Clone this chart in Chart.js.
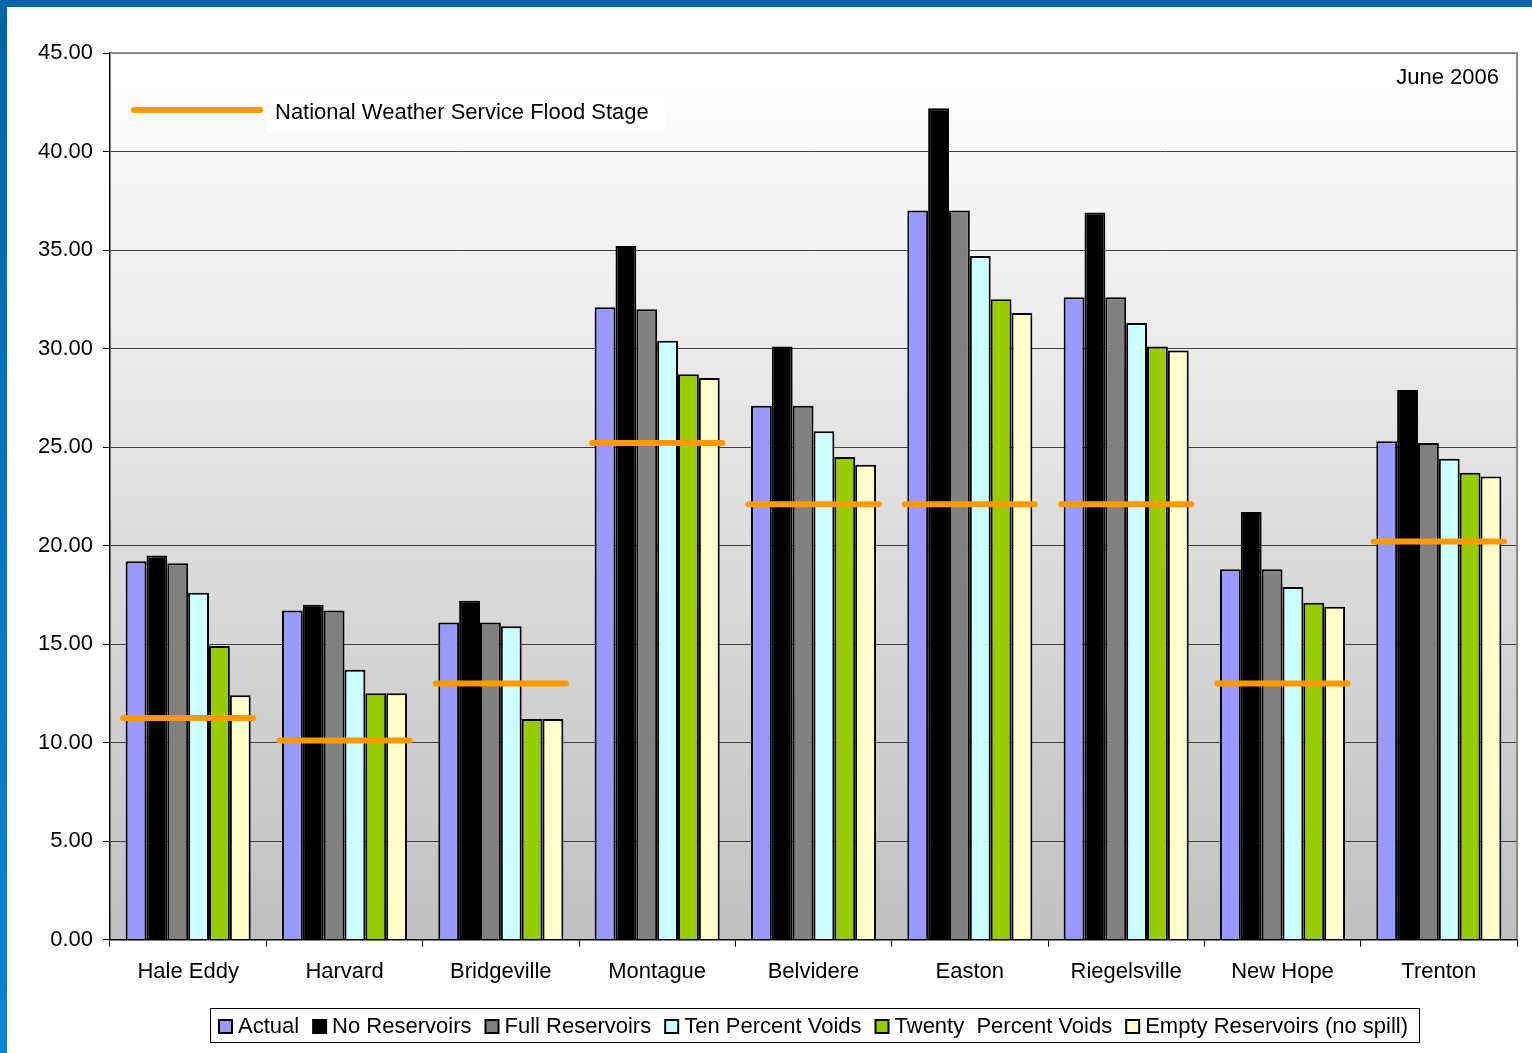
<!DOCTYPE html>
<html>
<head>
<meta charset="utf-8">
<script src="https://cdn.jsdelivr.net/npm/chart.js@4.4.1/dist/chart.umd.min.js"></script>
<style>
  html, body { margin: 0; padding: 0; }
  body { width: 1532px; height: 1053px; overflow: hidden; background: linear-gradient(#0066aa, #0a84d8); position: relative; }
  #wrap { position: absolute; left: 7px; top: 7px; width: 1525px; height: 1046px; background: #fff; }
</style>
</head>
<body>
<div id="wrap"><canvas id="floodChart" width="1525" height="1046"></canvas></div>
<script>
const categories = ["Hale Eddy", "Harvard", "Bridgeville", "Montague", "Belvidere", "Easton", "Riegelsville", "New Hope", "Trenton"];
const actual       = [19.2, 16.7, 16.1, 32.1, 27.1, 37.0, 32.6, 18.8, 25.3];
const noReservoirs = [19.5, 17.0, 17.2, 35.2, 30.1, 42.2, 36.9, 21.7, 27.9];
const fullRes      = [19.1, 16.7, 16.1, 32.0, 27.1, 37.0, 32.6, 18.8, 25.2];
const tenPercent   = [17.6, 13.7, 15.9, 30.4, 25.8, 34.7, 31.3, 17.9, 24.4];
const twentyPct    = [14.9, 12.5, 11.2, 28.7, 24.5, 32.5, 30.1, 17.1, 23.7];
const emptyRes     = [12.4, 12.5, 11.2, 28.5, 24.1, 31.8, 29.9, 16.9, 23.5];
const floodStage   = [11.25, 10.1, 13.0, 25.2, 22.1, 22.1, 22.1, 13.0, 20.2];

const FONT = "'Liberation Sans', Arial, sans-serif";

// gradient fill behind the bars plus the grey frame on top/right
const plotBackground = {
    id: "plotBackground",
    beforeDraw(chart) {
        const { ctx, chartArea: a } = chart;
        const g = ctx.createLinearGradient(0, a.top, 0, a.bottom);
        g.addColorStop(0, "#ffffff");
        g.addColorStop(1, "#c0c0c0");
        ctx.save();
        ctx.fillStyle = g;
        ctx.fillRect(a.left, a.top, a.right - a.left, a.bottom - a.top);
        ctx.restore();
    },
    afterDraw(chart) {
        const { ctx, chartArea: a } = chart;
        ctx.save();
        ctx.strokeStyle = "#8a8a8a";
        ctx.lineWidth = 2;
        ctx.beginPath();
        ctx.moveTo(a.left, a.top);
        ctx.lineTo(a.right, a.top);
        ctx.lineTo(a.right, a.bottom);
        ctx.stroke();
        ctx.restore();
    }
};

// orange flood stage marks across each group
const floodLines = {
    id: "floodLines",
    afterDatasetsDraw(chart) {
        const { ctx, scales: { x, y } } = chart;
        const step = x.getPixelForValue(1) - x.getPixelForValue(0);
        const half = step * 0.8 / 2 + 2.5;
        ctx.save();
        ctx.strokeStyle = "#ff9900";
        ctx.lineWidth = 6;
        ctx.lineCap = "round";
        floodStage.forEach((v, i) => {
            const cx = x.getPixelForValue(i);
            const py = y.getPixelForValue(v);
            ctx.beginPath();
            ctx.moveTo(cx - half, py);
            ctx.lineTo(cx + half, py);
            ctx.stroke();
        });
        ctx.restore();
    }
};

// flood stage key, date note and the boxed series legend
const notes = {
    id: "notes",
    afterDraw(chart) {
        const { ctx, chartArea: a } = chart;
        ctx.save();
        ctx.font = "22px " + FONT;
        ctx.textBaseline = "middle";

        ctx.fillStyle = "#ffffff";
        ctx.fillRect(261, 88, 397, 36);
        ctx.strokeStyle = "#ff9900";
        ctx.lineWidth = 6;
        ctx.lineCap = "round";
        ctx.beginPath();
        ctx.moveTo(127, 103);
        ctx.lineTo(253, 103);
        ctx.stroke();
        ctx.fillStyle = "#000";
        ctx.textAlign = "left";
        ctx.fillText("National Weather Service Flood Stage", 268, 106);

        ctx.textAlign = "right";
        ctx.fillText("June 2006", a.right - 18, 71);

        // bottom legend
        const box = 13, gapText = 6, gapItem = 14;
        const items = chart.data.datasets.map(d => ({ label: d.label, color: d.backgroundColor }));
        let total = 0;
        items.forEach((it, i) => {
            it.w = ctx.measureText(it.label).width;
            total += box + gapText + it.w + (i ? gapItem : 0);
        });
        const cx = (a.left + a.right) / 2;
        const cy = 1019;
        let x = cx - total / 2;
        ctx.strokeStyle = "#000";
        ctx.lineWidth = 1;
        ctx.strokeRect(Math.round(x - 9) + 0.5, cy - 17.5, Math.round(total + 20), 34);
        ctx.textAlign = "left";
        items.forEach(it => {
            ctx.fillStyle = it.color;
            ctx.fillRect(x, cy - 6, box, box);
            ctx.lineWidth = 2;
            ctx.strokeRect(x, cy - 6, box, box);
            ctx.fillStyle = "#000";
            ctx.fillText(it.label, x + box + gapText, cy + 1);
            x += box + gapText + it.w + gapItem;
        });
        ctx.restore();
    }
};

const barStyle = { borderColor: "#000000", borderWidth: 2, categoryPercentage: 0.8, barPercentage: 1.0 };

new Chart(document.getElementById("floodChart"), {
    type: "bar",
    data: {
        labels: categories,
        datasets: [
            { label: "Actual", data: actual, backgroundColor: "#9999ff", ...barStyle },
            { label: "No Reservoirs", data: noReservoirs, backgroundColor: "#000000", ...barStyle },
            { label: "Full Reservoirs", data: fullRes, backgroundColor: "#808080", ...barStyle },
            { label: "Ten Percent Voids", data: tenPercent, backgroundColor: "#ccffff", ...barStyle },
            { label: "Twenty  Percent Voids", data: twentyPct, backgroundColor: "#99cc00", ...barStyle },
            { label: "Empty Reservoirs (no spill)", data: emptyRes, backgroundColor: "#ffffcc", ...barStyle },
        ],
    },
    options: {
        responsive: false,
        animation: false,
        layout: { padding: { left: 0, top: 46, right: 15, bottom: 56 } },
        plugins: {
            legend: { display: false },
            tooltip: { enabled: false },
        },
        scales: {
            x: {
                grid: { offset: true, drawOnChartArea: false, drawTicks: true, tickLength: 7, tickColor: "#000" },
                border: { color: "#000", width: 1.5 },
                ticks: { color: "#000", font: { family: FONT, size: 22 }, padding: 12, maxRotation: 0 },
            },
            y: {
                min: 0,
                max: 45,
                afterFit: (s) => { s.width = 103; },
                grid: { color: "#404040", lineWidth: 1, tickLength: 7, tickColor: "#000" },
                border: { color: "#000", width: 1.5 },
                ticks: {
                    stepSize: 5,
                    color: "#000",
                    padding: 10,
                    font: { family: FONT, size: 22 },
                    callback: (v) => v.toFixed(2),
                },
            },
        },
    },
    plugins: [plotBackground, floodLines, notes],
});
</script>
</body>
</html>
